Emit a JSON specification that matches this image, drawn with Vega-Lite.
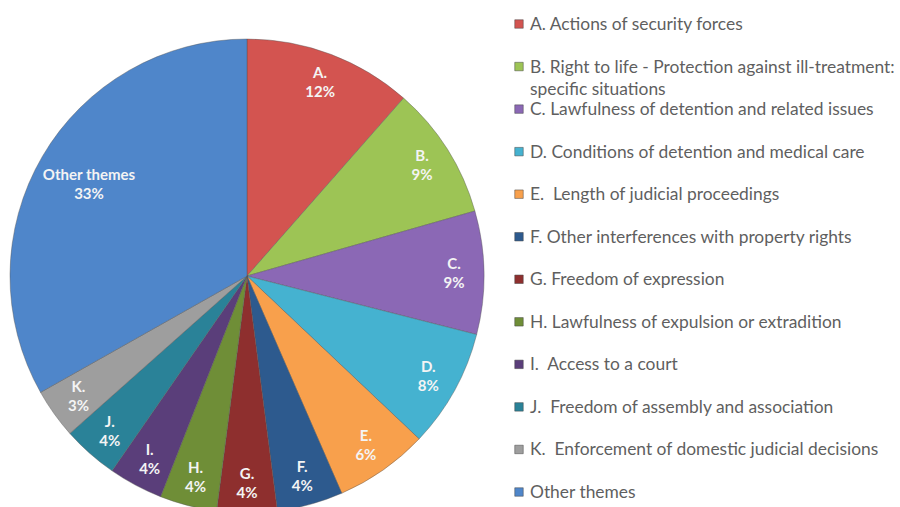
{
  "$schema": "https://vega.github.io/schema/vega-lite/v6.json",
  "background": "white",
  "padding": 0,
  "autosize": {"type": "pad"},
  "config": {"view": {"stroke": null}, "concat": {"spacing": 17}},
  "datasets": {
    "themes": [
      {"key": "A", "order": 1, "share": 11.5, "pieLabel": "A.\n12%", "legendLabel": "A. Actions of security forces"},
      {"key": "B", "order": 2, "share": 9.1, "pieLabel": "B.\n9%", "legendLabel": "B. Right to life - Protection against ill-treatment:\nspecific situations"},
      {"key": "C", "order": 3, "share": 8.4, "pieLabel": "C.\n9%", "legendLabel": "C. Lawfulness of detention and related issues"},
      {"key": "D", "order": 4, "share": 8.1, "pieLabel": "D.\n8%", "legendLabel": "D. Conditions of detention and medical care"},
      {"key": "E", "order": 5, "share": 6.4, "pieLabel": "E.\n6%", "legendLabel": "E.\u00a0 Length of judicial proceedings"},
      {"key": "F", "order": 6, "share": 4.5, "pieLabel": "F.\n4%", "legendLabel": "F. Other interferences with property rights"},
      {"key": "G", "order": 7, "share": 4.1, "pieLabel": "G.\n4%", "legendLabel": "G. Freedom of expression"},
      {"key": "H", "order": 8, "share": 3.9, "pieLabel": "H.\n4%", "legendLabel": "H. Lawfulness of expulsion or extradition"},
      {"key": "I", "order": 9, "share": 3.7, "pieLabel": "I.\n4%", "legendLabel": "I.\u00a0 Access to a court"},
      {"key": "J", "order": 10, "share": 3.8, "pieLabel": "J.\n4%", "legendLabel": "J.\u00a0 Freedom of assembly and association"},
      {"key": "K", "order": 11, "share": 3.4, "pieLabel": "K.\n3%", "legendLabel": "K.\u00a0 Enforcement of domestic judicial decisions"},
      {"key": "Other", "order": 12, "share": 33.2, "pieLabel": "Other themes\n33%", "legendLabel": "\u2002\u2009Other themes"}
    ]
  },
  "hconcat": [
    {
      "width": 494,
      "height": 552,
      "data": {"name": "themes"},
      "encoding": {
        "theta": {"field": "share", "type": "quantitative", "stack": true},
        "order": {"field": "order", "type": "quantitative"},
        "color": {
          "field": "key",
          "type": "nominal",
          "scale": {
            "domain": ["A", "B", "C", "D", "E", "F", "G", "H", "I", "J", "K", "Other"],
            "range": ["#D35450", "#9DC455", "#8B68B5", "#45B2D0", "#F8A04C", "#2D5A8E", "#8E2F2E", "#6F8E37", "#5A3E7A", "#2A8298", "#9E9E9E", "#4F86CA"]
          },
          "legend": null
        }
      },
      "layer": [
        {"mark": {"type": "arc", "radius": 237, "stroke": "#555555", "strokeWidth": 0.6, "strokeOpacity": 0.7}},
        {
          "mark": {
            "type": "text",
            "radius": {"expr": "datum.key == 'Other' ? 183 : 207"},
            "font": "Lato",
            "fontWeight": "bold",
            "fontSize": 15,
            "lineBreak": "\n",
            "lineHeight": 19,
            "dy": -9
          },
          "encoding": {
            "text": {"field": "pieLabel", "type": "nominal"},
            "color": {"value": "#F4F4F4"}
          }
        }
      ]
    },
    {
      "width": 16,
      "height": 516,
      "data": {"name": "themes"},
      "encoding": {
        "y": {
          "field": "key",
          "type": "nominal",
          "sort": {"field": "order"},
          "axis": null,
          "scale": {"type": "band", "paddingInner": 0, "paddingOuter": 0.064}
        }
      },
      "layer": [
        {
          "mark": {"type": "square", "size": 72, "opacity": 1, "stroke": "#444444", "strokeWidth": 0.5},
          "encoding": {
            "color": {
              "field": "key",
              "type": "nominal",
              "scale": {
                "domain": ["A", "B", "C", "D", "E", "F", "G", "H", "I", "J", "K", "Other"],
                "range": ["#D35450", "#9DC455", "#8B68B5", "#45B2D0", "#F8A04C", "#2D5A8E", "#8E2F2E", "#6F8E37", "#5A3E7A", "#2A8298", "#9E9E9E", "#4F86CA"]
              },
              "legend": null
            }
          }
        },
        {
          "mark": {
            "type": "text",
            "align": "left",
            "baseline": "alphabetic",
            "dx": 11,
            "dy": 6,
            "font": "Lato",
            "fontSize": 17.4,
            "color": "#5f5f5f",
            "lineBreak": "\n",
            "lineHeight": 22
          },
          "encoding": {"text": {"field": "legendLabel", "type": "nominal"}}
        }
      ]
    }
  ]
}
